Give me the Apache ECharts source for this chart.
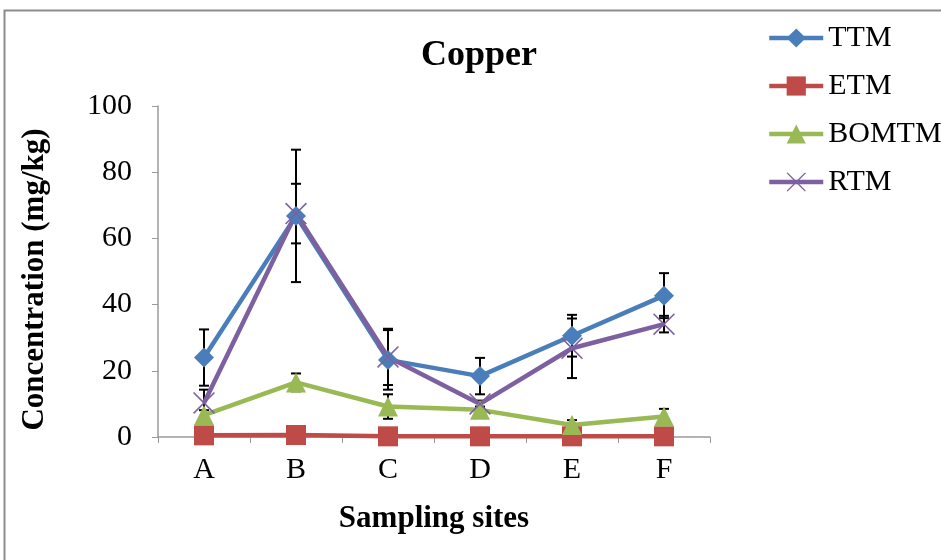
<!DOCTYPE html>
<html>
<head>
<meta charset="utf-8">
<script src="https://cdn.jsdelivr.net/npm/echarts@6/dist/echarts.min.js"></script>
<style>
  html, body { margin: 0; padding: 0; background: #fff; }
  #chart { width: 941px; height: 560px; }
</style>
</head>
<body>
<div id="chart"></div>
<script>
// data
const sites = ['A', 'B', 'C', 'D', 'E', 'F']
const ttm = [24, 66.8, 23.3, 18.4, 30.6, 42.7]
const ttmErr = [8.5, 20, 9, 5.5, 6.3, 6.8]
const etm = [0.5, 0.6, 0.2, 0.2, 0.2, 0.2]
const etmErr = [0, 0, 0, 0, 0, 0]
const bomtm = [6.6, 16.5, 9.2, 8.2, 3.6, 6.2]
const bomtmErr = [1.5, 2.7, 3.7, 1, 1.5, 2.3]
const rtm = [10.3, 67.5, 24.2, 10, 26.8, 34.1]
const rtmErr = [4, 9, 8.5, 1, 9, 2.5]
const yTicks = [0, 20, 40, 60, 80, 100]

const chart = echarts.init(document.getElementById('chart'))

const crossPath = 'path://M0,1L1,0L10,9L19,0L20,1L11,10L20,19L19,20L10,11L1,20L0,19L9,10Z'
const serif = '"Liberation Serif", "DejaVu Serif", serif'

// error bars drawn through the axes with a custom series
function errorBars(values, errs) {
  return {
    type: 'custom',
    silent: true,
    z: 1,
    data: values.map((v, i) => [i, v - errs[i], v + errs[i]]),
    renderItem: function (params, api) {
      const lo = api.coord([api.value(0), api.value(1)])
      const hi = api.coord([api.value(0), api.value(2)])
      if (hi[1] === lo[1]) return null
      const w = 5
      const style = { stroke: '#000', lineWidth: 2 }
      return {
        type: 'group',
        children: [
          { type: 'line', shape: { x1: lo[0], y1: lo[1], x2: hi[0], y2: hi[1] }, style: style },
          { type: 'line', shape: { x1: lo[0] - w, y1: lo[1], x2: lo[0] + w, y2: lo[1] }, style: style },
          { type: 'line', shape: { x1: hi[0] - w, y1: hi[1], x2: hi[0] + w, y2: hi[1] }, style: style }
        ]
      }
    }
  }
}

function lineSeries(name, values, color, symbol, size) {
  return {
    name: name,
    type: 'line',
    data: values,
    z: 3,
    symbol: symbol,
    symbolSize: size,
    showAllSymbol: true,
    lineStyle: { color: color, width: 4.5 },
    itemStyle: { color: color },
    emphasis: { disabled: true }
  }
}

const option = {
  animation: false,
  graphic: [
    {
      type: 'rect',
      shape: { x: 4.5, y: 10.5, width: 960, height: 600 },
      style: { fill: 'none', stroke: '#8c8c8c', lineWidth: 2 },
      z: 0
    }
  ],
  title: {
    text: 'Copper',
    left: 416,
    top: 33,
    textStyle: { fontFamily: serif, fontSize: 36, fontWeight: 'bold', color: '#000' }
  },
  legend: {
    orient: 'vertical',
    left: 767,
    top: 23,
    padding: 0,
    itemWidth: 54,
    itemHeight: 24,
    itemGap: 18,
    lineStyle: { width: 4.5 },
    textStyle: { fontFamily: serif, fontSize: 30, color: '#000' },
    data: ['TTM', 'ETM', 'BOMTM', 'RTM']
  },
  grid: { left: 158, top: 106, right: 231, bottom: 123 },
  xAxis: {
    type: 'category',
    data: sites,
    boundaryGap: true,
    name: 'Sampling sites',
    nameLocation: 'middle',
    nameGap: 66,
    nameTextStyle: { fontFamily: serif, fontSize: 31, fontWeight: 'bold', color: '#000' },
    axisLine: { lineStyle: { color: '#9a9a9a', width: 1.5 } },
    axisTick: { show: true, length: 6, lineStyle: { color: '#9a9a9a' } },
    axisLabel: { fontFamily: serif, fontSize: 30, color: '#000', margin: 18 }
  },
  yAxis: {
    type: 'value',
    min: yTicks[0],
    max: yTicks[yTicks.length - 1],
    interval: 20,
    name: 'Concentration (mg/kg)',
    nameLocation: 'middle',
    nameGap: 108,
    nameTextStyle: { fontFamily: serif, fontSize: 31, fontWeight: 'bold', color: '#000', padding: [0, 16, 0, 0] },
    axisLine: { show: true, lineStyle: { color: '#9a9a9a', width: 1.5 } },
    axisTick: { show: true, length: 6, lineStyle: { color: '#9a9a9a' } },
    splitLine: { show: false },
    axisLabel: { fontFamily: serif, fontSize: 30, color: '#000', margin: 26 }
  },
  series: [
    errorBars(ttm, ttmErr),
    errorBars(etm, etmErr),
    errorBars(bomtm, bomtmErr),
    errorBars(rtm, rtmErr),
    lineSeries('TTM', ttm, '#4a7ebb', 'diamond', 20),
    lineSeries('ETM', etm, '#be4b48', 'rect', 20),
    lineSeries('BOMTM', bomtm, '#98b954', 'triangle', 20),
    lineSeries('RTM', rtm, '#7d60a0', crossPath, 22)
  ]
}

chart.setOption(option)
</script>
</body>
</html>
